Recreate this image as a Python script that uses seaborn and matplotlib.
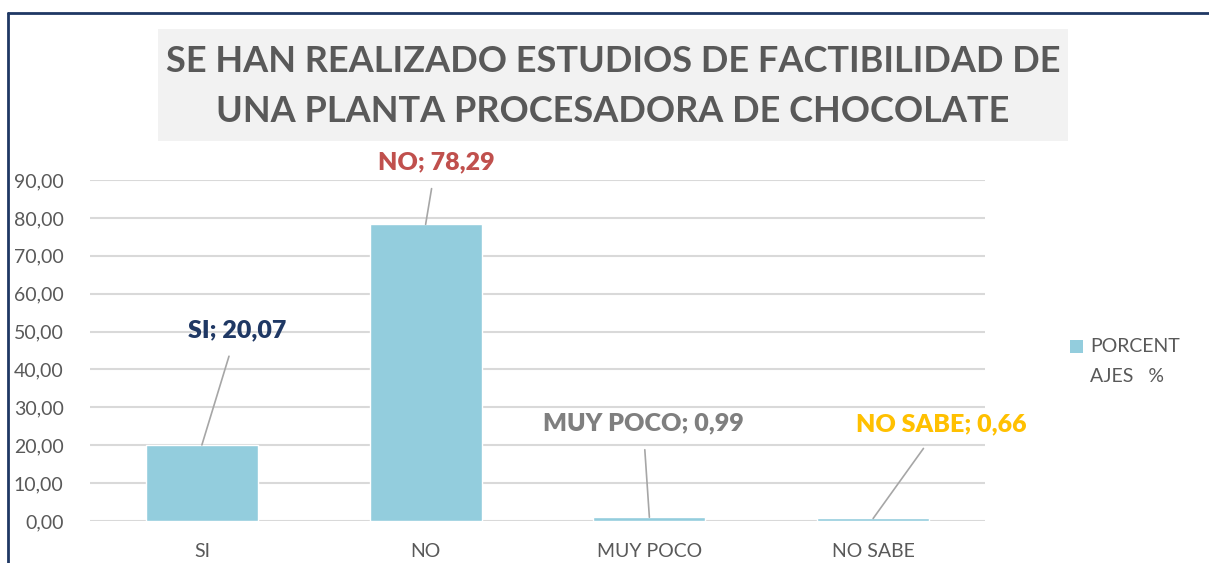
import seaborn as sns
import matplotlib.pyplot as plt
import pandas as pd
from matplotlib.lines import Line2D
from matplotlib.patches import Rectangle

categorias = ["SI", "NO", "MUY POCO", "NO SABE"]
porcentajes = [20.07, 78.29, 0.99, 0.66]
colores_etiqueta = ["#1f3864", "#c0504d", "#7f7f7f", "#ffc000"]
yticks = [0, 10, 20, 30, 40, 50, 60, 70, 80, 90]

data = pd.DataFrame({"categoria": categorias, "porcentaje": porcentajes})

sns.set_style("white")
plt.rcParams["font.family"] = ["Lato", "DejaVu Sans"]

W, H = 1209, 563
fig = plt.figure(figsize=(W / 100, H / 100), dpi=100)

def fx(px):
    return px / W

def fy(py):
    return 1 - py / H

# marco azul (izquierda y arriba)
fig.add_artist(Line2D([fx(8), fx(8)], [fy(13), 0], color="#1f3864", lw=2))
fig.add_artist(Line2D([fx(8), 1], [fy(13), fy(13)], color="#1f3864", lw=2))

# caja del título
fig.add_artist(Rectangle((fx(158), fy(141)), fx(1068 - 158), (141 - 29) / H,
                         facecolor="#f2f2f2", edgecolor="none"))
fig.text(fx(613), fy(62), "SE HAN REALIZADO ESTUDIOS DE FACTIBILIDAD DE",
         ha="center", va="center", fontsize=26, fontweight="bold", color="#595959")
fig.text(fx(613), fy(112), "UNA PLANTA PROCESADORA DE CHOCOLATE",
         ha="center", va="center", fontsize=26, fontweight="bold", color="#595959")

ax = fig.add_axes([fx(90), fy(521), fx(985 - 90), (521 - 180) / H])
sns.barplot(data=data, x="categoria", y="porcentaje", color="#93cddd",
            width=0.5, saturation=1, ax=ax, zorder=3)

ax.set_xlim(-0.5, 3.5)
ax.set_ylim(0, 90)
ax.set_yticks(yticks)
ax.set_yticklabels([f"{v:.2f}".replace(".", ",") for v in yticks])
ax.yaxis.grid(True, color="#d9d9d9", lw=1.5, zorder=0)
ax.set_axisbelow(True)
for s in ax.spines.values():
    s.set_visible(False)
ax.tick_params(axis="y", length=0, pad=19, labelsize=14, labelcolor="#595959")
ax.tick_params(axis="x", length=0, pad=16, labelsize=14, labelcolor="#595959")
ax.set_xlabel("")
ax.set_ylabel("")

# etiquetas de datos con líneas guía (posición en píxeles)
pos_etiquetas = [(237, 330), (436, 162), (643, 423), (941, 424)]
for i, (cat, val) in enumerate(zip(categorias, porcentajes)):
    lx, ly = pos_etiquetas[i]
    x_txt, y_txt = ax.transData.inverted().transform((lx, H - ly))
    ax.annotate(f"{cat}; {val:.2f}".replace(".", ","),
                xy=(i, val), xytext=(x_txt, y_txt), textcoords="data",
                ha="center", va="center", fontsize=18, fontweight="heavy",
                color=colores_etiqueta[i], annotation_clip=False,
                arrowprops=dict(arrowstyle="-", color="#a6a6a6", lw=1.2,
                                shrinkA=9, shrinkB=0))

# leyenda
fig.add_artist(Rectangle((fx(1070), fy(353)), fx(13), 13 / H,
                         facecolor="#93cddd", edgecolor="none"))
fig.text(fx(1090), fy(346), "PORCENT", ha="left", va="center", fontsize=14, color="#595959")
fig.text(fx(1090), fy(376), "AJES   %", ha="left", va="center", fontsize=14, color="#595959")

fig.savefig("out.png", dpi=100)
